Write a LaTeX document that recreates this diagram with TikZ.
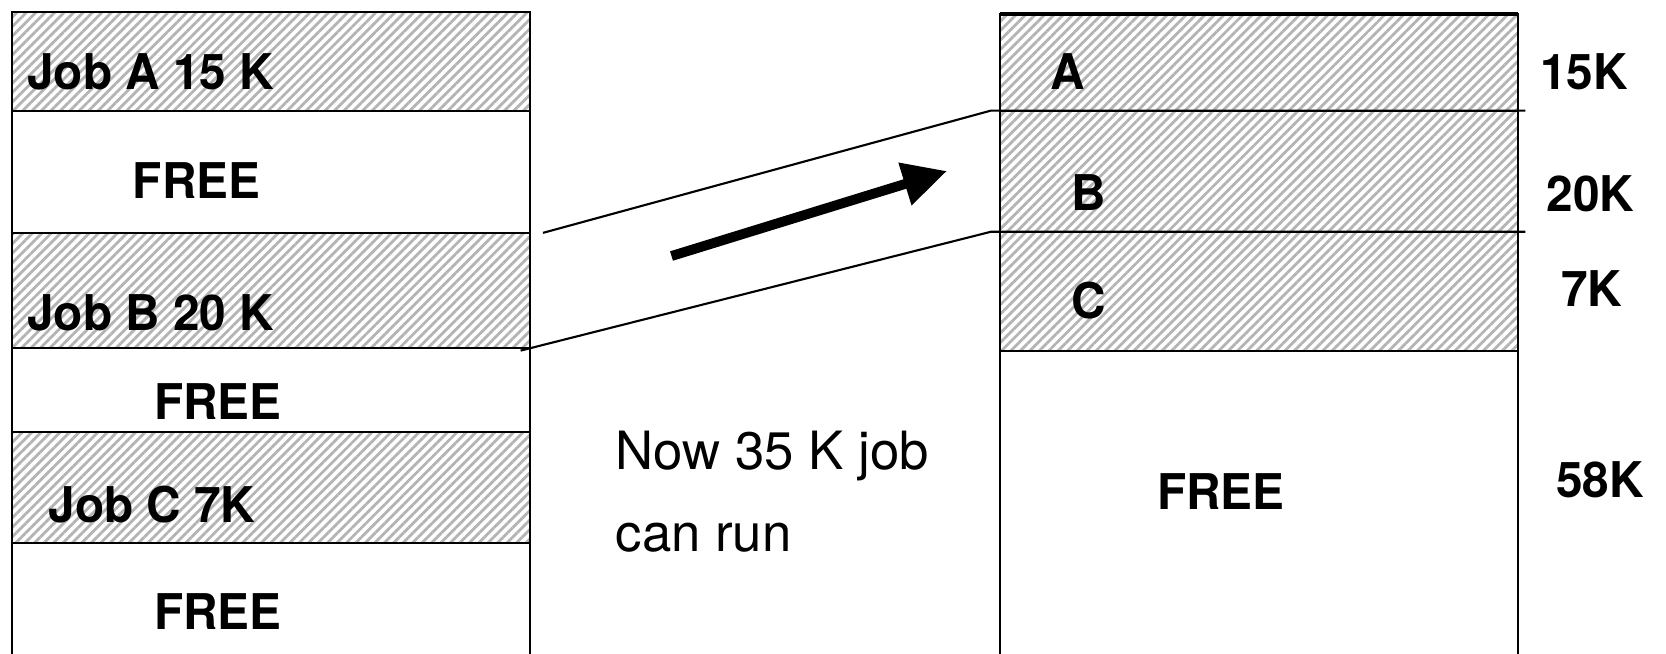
\documentclass[tikz,border=0pt]{standalone}
\usepackage{fontspec}
\setmainfont{TeX Gyre Heros}
\newfontfamily\condfont{TeX Gyre Heros}[FakeStretch=0.97]
\usepackage{tikz}
\usetikzlibrary{positioning,patterns.meta,arrows.meta}
\definecolor{hatchgray}{HTML}{B4B4B4}
\tikzset{
  membox/.style={draw, line width=0.6pt, minimum width=5.18cm, inner sep=0pt, outer sep=0pt},
  usedbox/.style={membox, pattern={Lines[angle=45, distance=1.9pt, line width=0.8pt]}, pattern color=hatchgray},
  lbl/.style={inner sep=0pt, font=\fontsize{14}{16}\selectfont\condfont\bfseries},
  note/.style={inner sep=0pt, align=left, font=\fontsize{15}{23.5}\selectfont},
  moveline/.style={line width=0.6pt},
  movearrow/.style={line width=2.8pt, -{Triangle[length=4.4mm, width=4.2mm]}}
}

\begin{document}
\begin{tikzpicture}[x=0.01cm, y=-0.01cm]
  \path[use as bounding box, clip] (0,0) rectangle (1666,653);

  % memory before compaction
  \node[usedbox, minimum height=0.988cm, anchor=north west] (ja) at (11.7,11.7) {};
  \node[membox, minimum height=1.222cm, below=0pt of ja] (f1) {};
  \node[usedbox, minimum height=1.147cm, below=0pt of f1] (jb) {};
  \node[membox, minimum height=0.84cm, below=0pt of jb] (f2) {};
  \node[usedbox, minimum height=1.116cm, below=0pt of f2] (jc) {};
  \node[membox, minimum height=1.6cm, below=0pt of jc] (f3) {};

  \node[lbl, anchor=west] (jalbl) at (26.6,72) {Job A 15 K};
  \node[lbl] (f1lbl) at (196.6,180.6) {FREE};
  \node[lbl, anchor=west] (jblbl) at (26.6,312.4) {Job B 20 K};
  \node[lbl] (f2lbl) at (217.8,401.6) {FREE};
  \node[lbl, anchor=west] (jclbl) at (47.8,504.7) {Job C 7K};
  \node[lbl] (f3lbl) at (217.8,612) {FREE};

  % memory after compaction
  \node[usedbox, minimum height=0.967cm, anchor=north west] (ra) at (1000,13.8) {};
  \node[usedbox, minimum height=1.211cm, below=0pt of ra] (rb) {};
  \node[usedbox, minimum height=1.19cm, below=0pt of rb] (rc) {};
  \node[membox, minimum height=3.2cm, below=0pt of rc] (rf) {};
  \draw[line width=1.2pt] (ra.north west) -- (ra.north east);

  \node[lbl] (ralbl) at (1068,72) {A};
  \node[lbl] (rblbl) at (1089,192.3) {B};
  \node[lbl] (rclbl) at (1089,300.7) {C};
  \node[lbl] (rflbl) at (1221,492) {FREE};

  \node[lbl] (sza) at (1584,72) {15K};
  \node[lbl] (szb) at (1590.5,193.4) {20K};
  \node[lbl] (szc) at (1591.6,289) {7K};
  \node[lbl] (szf) at (1600,480) {58K};

  % B slides up into the hole
  \coordinate (up0) at ([xshift=0.13cm]f1.south east);
  \coordinate (lo0) at ([xshift=-0.094cm, yshift=-0.03cm]jb.south east);
  \draw[moveline] (up0) -- ([xshift=-0.09cm]rb.north west) -- ([xshift=0.07cm]rb.north east);
  \draw[moveline] (lo0) -- ([xshift=-0.09cm]rc.north west) -- ([xshift=0.07cm]rc.north east);

  \coordinate (mv0) at (671.5,256);
  \coordinate (mv1) at (947,171);
  \draw[movearrow] (mv0) -- (mv1);

  \node[note, anchor=north west] (msg) at (615,430) {Now 35 K job\\can run};
\end{tikzpicture}
\end{document}
